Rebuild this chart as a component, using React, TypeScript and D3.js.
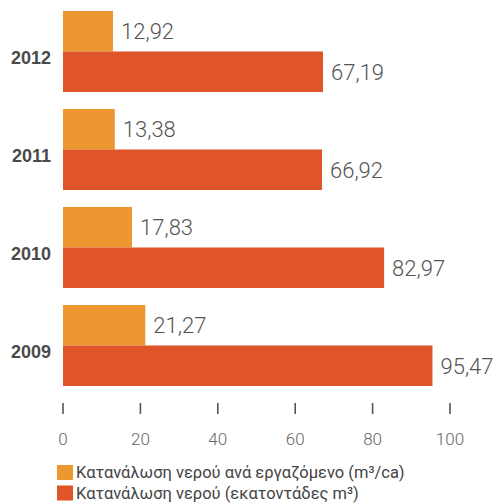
import React from "react";
import * as d3 from "d3";

const years = ["2012", "2011", "2010", "2009"];
const perEmployee = [12.92, 13.38, 17.83, 21.27];
const consumption = [67.19, 66.92, 82.97, 95.47];
const xTicks = [0, 20, 40, 60, 80, 100];
const seriesNames = [
  "Κατανάλωση νερού ανά εργαζόμενο (m³/ca)",
  "Κατανάλωση νερού (εκατοντάδες m³)",
];
const seriesColors = ["#EC972F", "#DF5428"];

const W = 496;
const H = 503;

const fmt = (v: number) => v.toFixed(2).replace(".", ",");

export default function App() {
  const x = d3.scaleLinear().domain([0, 100]).range([63, 450]);
  const y = d3.scaleBand<string>().domain(years).range([11, 386]).paddingInner(0.1735).paddingOuter(0);
  const inner = d3.scaleBand<string>().domain(["a", "b"]).range([0, y.bandwidth()]);
  const series = [perEmployee, consumption];
  const keys = ["a", "b"];
  const valueFont = "'Roboto', 'Liberation Sans', Arial, sans-serif";
  const baseFont = "'Liberation Sans', Arial, Helvetica, sans-serif";

  return (
    <svg
      width={W}
      height={H}
      style={{ position: "absolute", left: 0, top: 0, background: "#fff" }}
    >
      <rect x={0} y={0} width={W} height={H} fill="#fff" />
      {years.map((yr, i) => {
        const y0 = y(yr) as number;
        return (
          <g key={yr}>
            {series.map((s, k) => {
              const by = y0 + (inner(keys[k]) as number);
              const bh = inner.bandwidth();
              return (
                <g key={k}>
                  <rect
                    x={x(0)}
                    y={by}
                    width={x(s[i]) - x(0)}
                    height={bh}
                    fill={seriesColors[k]}
                  />
                  <text
                    x={x(s[i]) + 8}
                    y={by + bh / 2}
                    dy="0.36em"
                    fontFamily={valueFont}
                    fontWeight={300}
                    fontSize={22}
                    fill="#555"
                  >
                    {fmt(s[i])}
                  </text>
                </g>
              );
            })}
            <text
              x={51}
              y={y0 + y.bandwidth() / 2 + 6}
              dy="0.36em"
              textAnchor="end"
              fontFamily={baseFont}
              fontWeight="bold"
              fontSize={18}
              fill="#4a4a4a"
            >
              {yr}
            </text>
          </g>
        );
      })}
      {xTicks.map((t) => (
        <g key={t}>
          <line x1={x(t)} x2={x(t)} y1={403} y2={414} stroke="#555" strokeWidth={1.6} />
          <text
            x={x(t)}
            y={439}
            dy="0.36em"
            textAnchor="middle"
            fontFamily={valueFont}
            fontWeight={300}
            fontSize={17}
            fill="#666"
          >
            {t}
          </text>
        </g>
      ))}
      {seriesNames.map((n, k) => (
        <g key={n}>
          <rect x={57} y={465 + k * 20.5} width={16} height={15} fill={seriesColors[k]} />
          <text
            x={76}
            y={472.5 + k * 20.5}
            dy="0.36em"
            fontFamily={valueFont}
            fontSize={16.5}
            fill="#444"
          >
            {n}
          </text>
        </g>
      ))}
    </svg>
  );
}
